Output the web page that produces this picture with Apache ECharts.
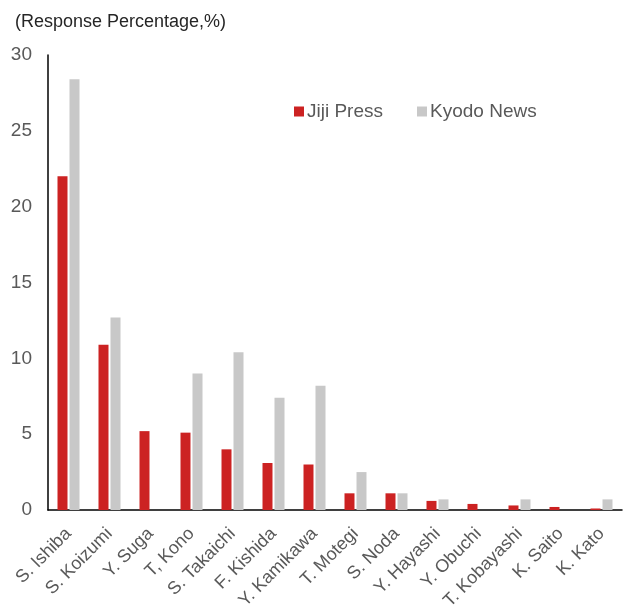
<!DOCTYPE html>
<html>
<head>
<meta charset="utf-8">
<script src="https://cdn.jsdelivr.net/npm/echarts@6/dist/echarts.min.js"></script>
<style>
html, body { margin: 0; padding: 0; background: #fff; }
#main { width: 623px; height: 608px; }
</style>
</head>
<body>
<div id="main"></div>
<script>
var candidates = ['S. Ishiba', 'S. Koizumi', 'Y. Suga', 'T, Kono', 'S. Takaichi', 'F. Kishida', 'Y. Kamikawa',
	'T. Motegi', 'S. Noda', 'Y. Hayashi', 'Y. Obuchi', 'T. Kobayashi', 'K. Saito', 'K. Kato'];
var jijiPress = [22.0, 10.9, 5.2, 5.1, 4.0, 3.1, 3.0, 1.1, 1.1, 0.6, 0.4, 0.3, 0.2, 0.1];
var kyodoNews = [28.4, 12.7, 0, 9.0, 10.4, 7.4, 8.2, 2.5, 1.1, 0.7, 0, 0.7, 0, 0.7];
var yTicks = [0, 5, 10, 15, 20, 25, 30];

var myChart = echarts.init(document.getElementById('main'));
var font = 'Arial, "Liberation Sans", sans-serif';
var option = {
	backgroundColor: '#ffffff',
	animation: false,
	title: {
		text: '(Response Percentage,%)',
		left: 10,
		top: 8,
		textStyle: { fontFamily: font, fontSize: 18, fontWeight: 'normal', color: '#262626' }
	},
	legend: {
		data: ['Jiji Press', 'Kyodo News'],
		left: 289,
		top: 97,
		itemWidth: 10,
		itemHeight: 10,
		itemGap: 34,
		icon: 'rect',
		textStyle: { fontFamily: font, fontSize: 19, color: '#595959', padding: [0, 0, 0, -2] }
	},
	grid: { left: 48, right: 1, top: 55, bottom: 98, outerBoundsMode: 'none' },
	xAxis: {
		type: 'category',
		data: candidates,
		axisLine: { lineStyle: { color: '#000', width: 1.5 } },
		axisTick: { show: false },
		axisLabel: { rotate: 45, interval: 0, fontFamily: font, fontSize: 18, color: '#595959', margin: 21 }
	},
	yAxis: {
		type: 'value',
		min: yTicks[0],
		max: yTicks[yTicks.length - 1],
		interval: 5,
		axisLine: { show: true, lineStyle: { color: '#000', width: 1.5 } },
		axisTick: { show: false },
		splitLine: { show: false },
		axisLabel: { fontFamily: font, fontSize: 19, color: '#595959', margin: 16 }
	},
	series: [{
		name: 'Jiji Press',
		type: 'bar',
		data: jijiPress,
		barWidth: 10,
		barGap: '20%',
		itemStyle: { color: '#cc2222' }
	}, {
		name: 'Kyodo News',
		type: 'bar',
		data: kyodoNews,
		barWidth: 10,
		itemStyle: { color: '#c8c8c8' }
	}]
};
myChart.setOption(option);
</script>
</body>
</html>
